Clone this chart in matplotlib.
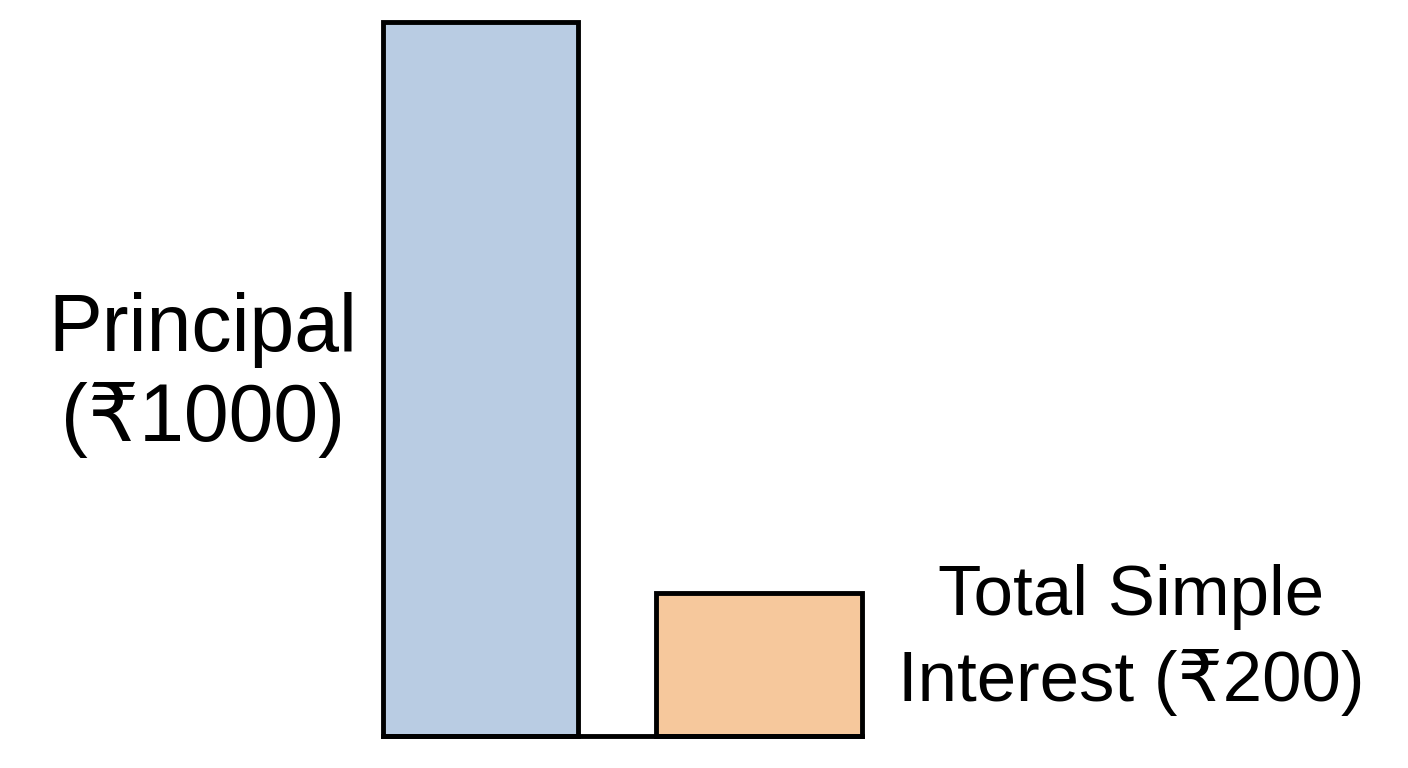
import matplotlib
matplotlib.use('Agg')
import matplotlib.pyplot as plt

labels = ['Principal\n(₹1000)', 'Total Simple\nInterest (₹200)']
values = [1000, 200]
colors = ['#b9cce3', '#f6c89c']

fig = plt.figure(figsize=(14.08, 7.68), dpi=100)
ax = fig.add_axes([383/1408, 32/768, 479/1408, 714/768])

ax.bar([0, 1], values, width=[0.70, 0.74], color=colors, edgecolor='black',
       linewidth=3.5, clip_on=False)
ax.set_xlim(-0.35, 1.37)
ax.set_ylim(0, 1000)

for s in ['top', 'left', 'right']:
    ax.spines[s].set_visible(False)
ax.spines['bottom'].set_linewidth(3.5)
ax.set_xticks([])
ax.set_yticks([])

fig.text(203/1408, 1 - 375/768, labels[0], ha='center', va='center',
         fontsize=58, family=['Liberation Sans', 'DejaVu Sans'], linespacing=1.24)
fig.text(1131/1408, 1 - 640/768, labels[1], ha='center', va='center',
         fontsize=51, family=['Liberation Sans', 'DejaVu Sans'], linespacing=1.38)

fig.savefig('out.png', dpi=100)
